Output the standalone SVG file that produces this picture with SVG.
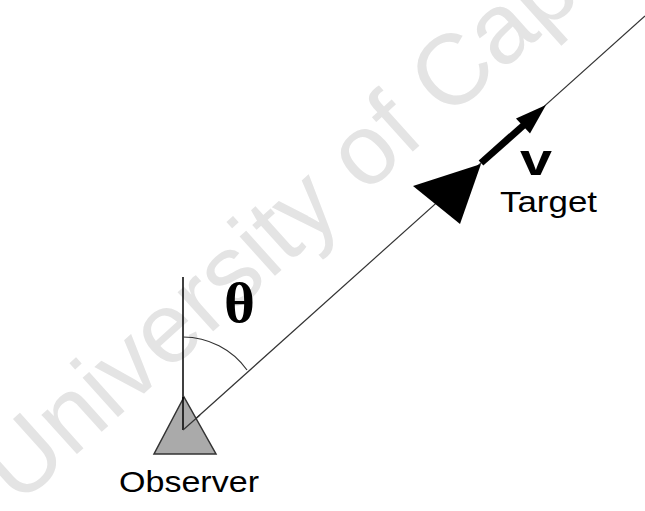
<svg xmlns="http://www.w3.org/2000/svg" width="645" height="511" viewBox="0 0 645 511">
  <style>
    .wm { font-family: "Liberation Sans", Arial, sans-serif; font-size: 100px; fill: #e4e4e4; }
    .lbl { font-family: "Liberation Sans", Arial, sans-serif; fill: #000; }
    .ln { stroke: #333; stroke-width: 1.2; fill: none; }
  </style>
  <rect width="645" height="511" fill="#fff"/>
  <g id="watermark">
    <text class="wm" transform="translate(18,507) rotate(-42)">University of Cape</text>
  </g>
  <g id="connectors">
    <line class="ln" x1="183" y1="430" x2="645" y2="16"/>
    <line x1="183" y1="277" x2="183" y2="430" stroke="#000" stroke-width="1.5"/>
    <path class="ln" d="M183,337 A79,79 0 0 1 247,370"/>
    <line x1="481" y1="163" x2="525" y2="124" stroke="#000" stroke-width="7"/>
    <polygon points="546,105 516,118.5 530,133.5" fill="#000"/>
  </g>
  <g id="observer">
    <polygon points="184,397 154,454 216,454" fill="#aaaaaa" stroke="#333" stroke-width="1.5"/>
    <line x1="183" y1="397" x2="183" y2="430" stroke="#000" stroke-width="1.5"/>
    <line x1="183" y1="430" x2="200" y2="415" stroke="#333" stroke-width="1.2"/>
    <text class="lbl" x="119" y="492" font-size="29" textLength="140" lengthAdjust="spacingAndGlyphs">Observer</text>
  </g>
  <g id="angle">
    <text x="224" y="322" font-family="Liberation Serif, 'Times New Roman', serif" font-weight="bold" font-size="56" textLength="31" lengthAdjust="spacingAndGlyphs">θ</text>
  </g>
  <g id="target">
    <polygon points="413,186 481,164 460,224" fill="#000"/>
    <text class="lbl" x="520" y="175" font-size="44" font-weight="bold" textLength="32" lengthAdjust="spacingAndGlyphs">v</text>
    <text class="lbl" x="500" y="212" font-size="30" textLength="97" lengthAdjust="spacingAndGlyphs">Target</text>
  </g>
</svg>
